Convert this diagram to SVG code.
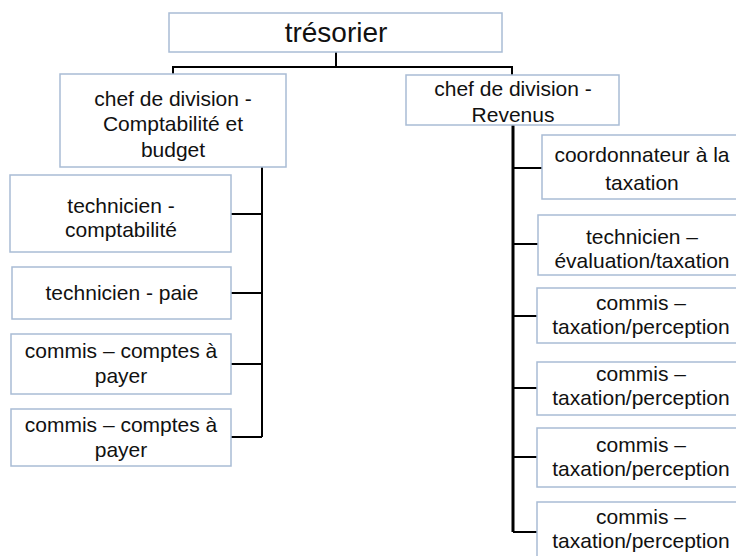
<svg xmlns="http://www.w3.org/2000/svg" width="736" height="556" viewBox="0 0 736 556">
<style>
.box{fill:#ffffff;stroke:#a9bcd5;stroke-width:1.5}
.t{font-family:"Liberation Sans",Arial,sans-serif;font-size:21px;fill:#111111;text-anchor:middle}
.big{font-size:28px}
.c{fill:none;stroke:#000000;stroke-width:2}
.c3{fill:none;stroke:#000000;stroke-width:3}
</style>
<rect width="736" height="556" fill="#ffffff"/>
<g id="connectors">
<path class="c" d="M336,52 V67 M173,74 V67 H512 V75"/>
<path class="c" d="M262,167 V437 M231,214 H262 M231,293 H262 M231,364 H262 M231,437 H262"/>
<path class="c3" d="M513,125 V532"/>
<path class="c" d="M513,168 H542 M513,244 H538 M513,316 H537 M513,388 H537 M513,457 H537 M513,532 H537"/>
</g>
<g id="tresorier">
<rect class="box" x="169" y="13" width="333" height="39"/>
<text class="t big" x="336" y="42">trésorier</text>
</g>
<g id="chef-comptabilite">
<rect class="box" x="60" y="74" width="226" height="93"/>
<text class="t" x="173" y="106">chef de division -</text>
<text class="t" x="173" y="131">Comptabilité et</text>
<text class="t" x="173" y="157">budget</text>
</g>
<g id="technicien-comptabilite">
<rect class="box" x="10" y="175" width="221" height="77"/>
<text class="t" x="121" y="213">technicien -</text>
<text class="t" x="121" y="237">comptabilité</text>
</g>
<g id="technicien-paie">
<rect class="box" x="12" y="267" width="219" height="52"/>
<text class="t" x="122" y="300">technicien - paie</text>
</g>
<g id="commis-comptes-1">
<rect class="box" x="11" y="334" width="220" height="60"/>
<text class="t" x="121" y="358">commis – comptes à</text>
<text class="t" x="121" y="383">payer</text>
</g>
<g id="commis-comptes-2">
<rect class="box" x="11" y="409" width="220" height="57"/>
<text class="t" x="121" y="432">commis – comptes à</text>
<text class="t" x="121" y="457">payer</text>
</g>
<g id="chef-revenus">
<rect class="box" x="406" y="75" width="213" height="50"/>
<text class="t" x="513" y="96">chef de division -</text>
<text class="t" x="513" y="122">Revenus</text>
</g>
<g id="coordonnateur">
<rect class="box" x="542" y="135" width="204" height="64"/>
<text class="t" x="642" y="162">coordonnateur à la</text>
<text class="t" x="642" y="190">taxation</text>
</g>
<g id="technicien-evaluation">
<rect class="box" x="538" y="215" width="208" height="60"/>
<text class="t" x="642" y="244">technicien –</text>
<text class="t" x="642" y="268">évaluation/taxation</text>
</g>
<g id="commis-taxation-1">
<rect class="box" x="537" y="288" width="209" height="55"/>
<text class="t" x="641" y="310">commis –</text>
<text class="t" x="641" y="334">taxation/perception</text>
</g>
<g id="commis-taxation-2">
<rect class="box" x="537" y="362" width="209" height="53"/>
<text class="t" x="641" y="381">commis –</text>
<text class="t" x="641" y="405">taxation/perception</text>
</g>
<g id="commis-taxation-3">
<rect class="box" x="537" y="428" width="209" height="59"/>
<text class="t" x="641" y="452">commis –</text>
<text class="t" x="641" y="476">taxation/perception</text>
</g>
<g id="commis-taxation-4">
<rect class="box" x="537" y="502" width="209" height="60"/>
<text class="t" x="641" y="524">commis –</text>
<text class="t" x="641" y="548">taxation/perception</text>
</g>
</svg>
